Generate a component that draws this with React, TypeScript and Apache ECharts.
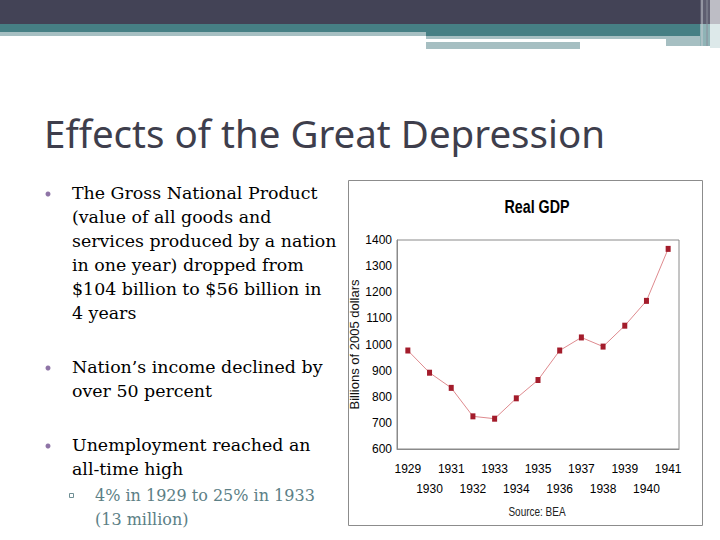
import { useEffect, useRef } from 'react';
import * as echarts from 'echarts';

// Real GDP, billions of 2005 dollars
const years = ['1929', '1930', '1931', '1932', '1933', '1934', '1935', '1936', '1937', '1938', '1939', '1940', '1941'];
const gdp = [977, 892, 834, 725, 716, 794, 864, 977, 1027, 992, 1072, 1167, 1366];
const yMin = 600;
const yMax = 1400;
const yStep = 100;

const bullet1 = [
  'The Gross National Product',
  '(value of all goods and',
  'services produced by a nation',
  'in one year) dropped from',
  '$104 billion to $56 billion in',
  '4 years',
];
const bullet2 = ['Nation\u2019s income declined by', 'over 50 percent'];
const bullet3 = ['Unemployment reached an', 'all-time high'];
const subBullet = ['4% in 1929 to 25% in 1933', '(13 million)'];

const serif = '"DejaVu Serif", "Liberation Serif", serif';
const sans = '"Liberation Sans", Arial, sans-serif';

function textLines(lines: string[], x: number, y0: number, step: number, size: number, color: string) {
  return lines.map((line, i) => ({
    type: 'text',
    x,
    y: y0 + i * step,
    style: { text: line, fill: color, font: `${size}px ${serif}`, textVerticalAlign: 'middle' },
  }));
}

export default function App() {
  const chartRef = useRef<HTMLDivElement>(null);

  useEffect(() => {
    document.body.style.margin = '0';
    if (!chartRef.current) return;
    const chart = echarts.init(chartRef.current, null, { renderer: 'svg' });

    const graphic: any[] = [
      // header bars
      { type: 'rect', shape: { x: 0, y: 0, width: 720, height: 24 }, style: { fill: '#434356' } },
      { type: 'rect', shape: { x: 0, y: 24, width: 426, height: 8 }, style: { fill: '#467F84' } },
      { type: 'rect', shape: { x: 0, y: 32, width: 426, height: 4 }, style: { fill: '#A6BFC2' } },
      { type: 'rect', shape: { x: 426, y: 24, width: 294, height: 12 }, style: { fill: '#467F84' } },
      { type: 'rect', shape: { x: 426, y: 36, width: 240, height: 3 }, style: { fill: '#A6BFC2' } },
      { type: 'rect', shape: { x: 426, y: 42, width: 154, height: 7 }, style: { fill: '#A6BFC2' } },
      { type: 'rect', shape: { x: 666, y: 36, width: 40, height: 10 }, style: { fill: '#A6BFC2' } },
      { type: 'rect', shape: { x: 700, y: 0, width: 20, height: 24 }, style: { fill: '#5E5E70' } },
      { type: 'rect', shape: { x: 710, y: 0, width: 10, height: 24 }, style: { fill: '#BDBDC5' } },
      { type: 'rect', shape: { x: 700, y: 24, width: 20, height: 22 }, style: { fill: '#8FB3B6' } },
      { type: 'rect', shape: { x: 710, y: 24, width: 10, height: 24 }, style: { fill: '#DDE9EA' } },
      { type: 'line', shape: { x1: 702, y1: 0, x2: 702, y2: 46 }, style: { stroke: '#C9CDD3', lineWidth: 1 } },
      { type: 'line', shape: { x1: 707, y1: 0, x2: 707, y2: 46 }, style: { stroke: '#8A8E9A', lineWidth: 1 } },
      // title
      {
        type: 'text',
        x: 44,
        y: 133,
        style: {
          text: 'Effects of the Great Depression',
          fill: '#3E3E4C',
          font: '38.5px "Noto Sans", "DejaVu Sans", sans-serif',
          textVerticalAlign: 'middle',
        },
      },
      // bullets
      { type: 'circle', shape: { cx: 48, cy: 194, r: 2.5 }, style: { fill: '#8E74A6' } },
      ...textLines(bullet1, 72, 193, 24, 17.4, '#000'),
      { type: 'circle', shape: { cx: 48, cy: 368, r: 2.5 }, style: { fill: '#8E74A6' } },
      ...textLines(bullet2, 72, 367, 24, 17.4, '#000'),
      { type: 'circle', shape: { cx: 48, cy: 446, r: 2.5 }, style: { fill: '#8E74A6' } },
      ...textLines(bullet3, 72, 445, 24, 17.4, '#000'),
      { type: 'rect', shape: { x: 69.5, y: 493.5, width: 4, height: 4 }, style: { fill: 'none', stroke: '#6F8F95', lineWidth: 1 } },
      ...textLines(subBullet, 95, 495, 24, 16, '#5C8086'),
      // chart picture frame
      { type: 'rect', z: -10, shape: { x: 348.5, y: 180.5, width: 354, height: 345 }, style: { fill: '#fff', stroke: '#8C8C8C', lineWidth: 1 } },
      {
        type: 'text',
        x: 537,
        y: 207,
        scaleX: 0.75,
        style: { text: 'Real GDP', fill: '#000', font: `bold 19px ${sans}`, textAlign: 'center', textVerticalAlign: 'middle' },
      },
      {
        type: 'text',
        x: 537,
        y: 512,
        scaleX: 0.8,
        style: { text: 'Source: BEA', fill: '#222', font: `12.5px ${sans}`, textAlign: 'center', textVerticalAlign: 'middle' },
      },
    ];

    chart.setOption({
      animation: false,
      backgroundColor: '#fff',
      graphic,
      grid: {
        left: 397,
        top: 240,
        right: 41,
        bottom: 91,
        show: true,
        borderColor: '#8A8A8A',
        borderWidth: 1,
      },
      xAxis: {
        type: 'category',
        data: years,
        boundaryGap: true,
        axisLine: { lineStyle: { color: '#8A8A8A' } },
        axisTick: { show: false },
        axisLabel: {
          interval: 0,
          margin: 10,
          color: '#000',
          fontFamily: sans,
          fontSize: 12,
          lineHeight: 20,
          formatter: (v: string, i: number) => (i % 2 === 0 ? v : '\n' + v),
        },
      },
      yAxis: {
        type: 'value',
        min: yMin,
        max: yMax,
        interval: yStep,
        name: 'Billions of 2005 dollars',
        nameLocation: 'middle',
        nameGap: 11,
        nameTextStyle: { color: '#111', fontFamily: sans, fontSize: 13 },
        splitLine: { show: false },
        axisLine: { show: true, lineStyle: { color: '#8A8A8A' } },
        axisTick: { show: false },
        axisLabel: {
          color: '#000',
          fontFamily: sans,
          fontSize: 12,
          margin: 5,
          formatter: (v: number) => String(v),
        },
      },
      series: [
        {
          type: 'line',
          data: gdp,
          symbol: 'rect',
          symbolSize: [5, 6],
          lineStyle: { color: '#DE8A8E', width: 1 },
          itemStyle: { color: '#A31C2B' },
        },
      ],
    });

    return () => {
      chart.dispose();
    };
  }, []);

  return <div ref={chartRef} style={{ width: '720px', height: '540px' }}></div>;
}
